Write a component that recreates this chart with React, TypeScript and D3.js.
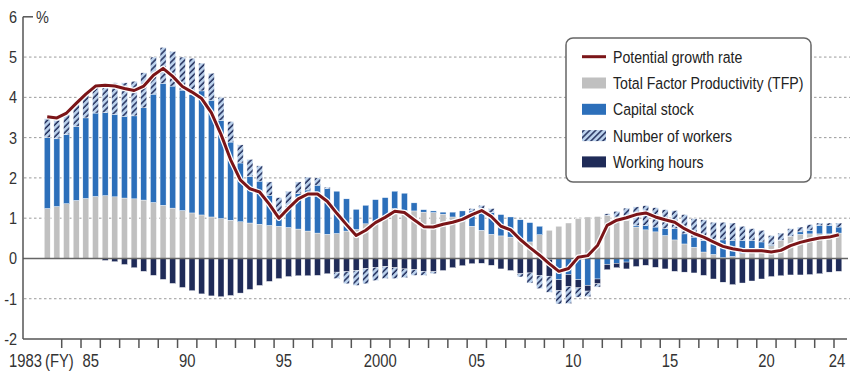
import React from "react";
import * as d3 from "d3";

// Half-year periods, FY1983 1H ... FY2024 1H
const startYear = 1983;
const tfp = [1.24,1.29,1.36,1.44,1.49,1.54,1.56,1.53,1.5,1.48, 1.45,1.39,1.32,1.25,1.19,1.13,1.08,1.03,0.99,0.95, 0.91,0.88,0.85,0.82,0.8, 0.77,0.73,0.68,0.63,0.6, 0.62,0.68,0.72,0.86,0.9, 0.99,1.24,1.19,1.18,1.15, 1.14,1.1,1.03,0.92,0.8, 0.7,0.6,0.56,0.53,0.46, 0.41,0.59,0.7,0.8,0.88, 0.99,1.03,1.04,1.07,1.03, 0.95,0.78,0.71,0.66,0.57, 0.46,0.36,0.28,0.16,0.1, 0.02,0.05,0.12,0.24,0.24, 0.32,0.45,0.55,0.6,0.61, 0.61,0.61,0.63];
const capital = [1.76,1.68,1.71,1.84,2.0,2.07,2.06,2.05,2.03,2.06, 2.29,2.69,3.03,3.03,2.99,2.94,3.08,2.9,2.44,1.94, 1.46,1.16,1.07,0.75,0.23, 0.55,0.88,1.02,1.19,1.13, 1.05,0.8,0.5,0.46,0.56, 0.52,0.43,0.43,0.2,0.06, 0.04,0.05,0.12,0.26,0.38, 0.53,0.54,0.53,0.5,0.5, 0.48,0.21,-0.02,-0.53,-0.4, -0.53,-0.67,-0.51,-0.15,-0.12, -0.09,0.04,0.11,0.12,0.17, 0.28,0.25,0.25,0.29,0.26, 0.44,0.4,0.33,0.21,0.17, 0.03,0,0,0.06,0.09, 0.21,0.21,0.15];
const hours = [0,0,0,0,0,-0.01,-0.05,-0.08,-0.15,-0.23, -0.32,-0.42,-0.52,-0.62,-0.72,-0.8,-0.88,-0.93,-0.95,-0.92, -0.86,-0.77,-0.67,-0.57,-0.5, -0.45,-0.43,-0.43,-0.42,-0.38, -0.34,-0.33,-0.3,-0.25,-0.22, -0.2,-0.23,-0.26,-0.28,-0.32, -0.33,-0.3,-0.23,-0.18,-0.13, -0.12,-0.17,-0.26,-0.3,-0.38, -0.36,-0.42,-0.42,-0.27,-0.3, -0.2,-0.14,-0.12,-0.13,-0.11, -0.17,-0.2,-0.17,-0.22,-0.26, -0.32,-0.34,-0.36,-0.42,-0.51, -0.59,-0.65,-0.61,-0.56,-0.51, -0.45,-0.43,-0.41,-0.41,-0.4, -0.38,-0.34,-0.32];
const workers = [0.47,0.46,0.5,0.54,0.61,0.64,0.68,0.78,0.83,0.86, 0.87,0.92,0.89,0.86,0.82,0.9,0.69,0.67,0.57,0.51, 0.45,0.42,0.38,0.33,0.48, 0.35,0.29,0.32,0.18,0.04, -0.16,-0.3,-0.37,-0.38,-0.33, -0.3,-0.27,-0.22,-0.14,-0.1, -0.05,0,0,0,0.06, 0.09,0.1,0,0,-0.08, -0.25,-0.33,-0.4,-0.33,-0.42, -0.23,-0.14,-0.08,0.04,0.14, 0.3,0.46,0.49,0.48,0.47, 0.45,0.48,0.46,0.51,0.54, 0.44,0.43,0.35,0.29,0.29, 0.22,0.18,0.19,0.12,0.14, 0.06,0.06,0.1];
const potential = [3.52,3.49,3.61,3.85,4.08,4.28,4.3,4.28,4.22,4.17, 4.28,4.55,4.72,4.52,4.27,4.13,3.97,3.62,3.08,2.45, 1.95,1.73,1.65,1.35,1.0, 1.25,1.48,1.6,1.6,1.42, 1.12,0.84,0.57,0.7,0.89, 1.02,1.17,1.14,0.96,0.79, 0.78,0.85,0.9,0.97,1.09, 1.19,1.04,0.8,0.71,0.47, 0.27,0.08,-0.13,-0.32,-0.25, 0.03,0.07,0.32,0.82,0.95, 1.01,1.09,1.13,1.03,0.96, 0.9,0.74,0.62,0.53,0.41, 0.3,0.24,0.2,0.19,0.19, 0.16,0.2,0.32,0.4,0.46, 0.51,0.53,0.59];

const yTicks = [-2, -1, 0, 1, 2, 3, 4, 5, 6];
const xLabels = [
  { year: 1985, text: "85" },
  { year: 1990, text: "90" },
  { year: 1995, text: "95" },
  { year: 2000, text: "2000" },
  { year: 2005, text: "05" },
  { year: 2010, text: "10" },
  { year: 2015, text: "15" },
  { year: 2020, text: "20" },
];
const legendItems = [
  { key: "line", label: "Potential growth rate" },
  { key: "tfp", label: "Total Factor Productivity (TFP)" },
  { key: "capital", label: "Capital stock" },
  { key: "workers", label: "Number of workers" },
  { key: "hours", label: "Working hours" },
];

const W = 850, H = 372;
const FONT = "'Liberation Sans', Arial, sans-serif";
const colors: Record<string, string> = {
  tfp: "#c0c0c0",
  capital: "#2c6fba",
  hours: "#1f2b58",
  workers: "url(#hatch)",
  line: "#7b1518",
};

function Txt({ x, y, anchor = "start", size = 15, sx = 0.85, fill = "#333", children }: any) {
  return (
    <text
      transform={`translate(${x},${y}) scale(${sx},1)`}
      textAnchor={anchor}
      fontSize={size}
      fontFamily={FONT}
      fill={fill}
    >
      {children}
    </text>
  );
}

export default function App() {
  const n = tfp.length;
  const rows = d3.range(n).map((i) => ({
    t: startYear + i * 0.5 + 0.25,
    tfp: tfp[i],
    capital: capital[i],
    hours: hours[i],
    workers: workers[i],
  }));
  const x = d3.scaleLinear().domain([1983, 2024]).range([42.4, 834]);
  const y = d3.scaleLinear().domain([-2, 6]).range([339, 16.8]);
  const bw = 6;
  const keys = ["tfp", "capital", "hours", "workers"];
  const series = d3.stack<any>().keys(keys).offset(d3.stackOffsetDiverging)(rows);
  const line = d3
    .line<number>()
    .x((_, i) => x(rows[i].t))
    .y((d) => y(d));
  const linePath = line(potential) || "";
  const tickYears = d3.range(1984, 2025);

  return (
    <svg width={W} height={H} style={{ position: "absolute", left: 0, top: 0, background: "#fff" }}>
      <defs>
        <pattern id="hatch" patternUnits="userSpaceOnUse" width="4.2" height="4.2" patternTransform="rotate(45)">
          <rect width="4.2" height="4.2" fill="#bcd3ee" />
          <line x1="1" y1="0" x2="1" y2="4.2" stroke="#1f2b58" strokeWidth="1.5" />
        </pattern>
      </defs>

      {/* gridlines */}
      {yTicks.filter((v) => v !== 0 && v !== 6 && v !== -2).map((v) => (
        <line key={v} x1={24} x2={850} y1={y(v)} y2={y(v)} stroke="#9a9a9a" strokeDasharray="2.5,2.5" strokeWidth={1} />
      ))}

      {/* bars */}
      {series.map((s) => (
        <g key={s.key} fill={colors[s.key]}>
          {s.map((d, i) => {
            const y0 = y(d[0]), y1 = y(d[1]);
            const h = Math.abs(y0 - y1);
            if (h < 0.01) return null;
            return (
              <rect key={i} x={x(rows[i].t) - bw / 2} y={Math.min(y0, y1)} width={bw} height={h} stroke="#fff" strokeWidth={0.4} />
            );
          })}
        </g>
      ))}

      {/* zero line */}
      <line x1={23} x2={848} y1={y(0)} y2={y(0)} stroke="#666" strokeWidth={1.5} />

      {/* potential growth line */}
      <path d={linePath} fill="none" stroke="#fff" strokeWidth={5.5} strokeLinejoin="round" />
      <path d={linePath} fill="none" stroke={colors.line} strokeWidth={3} strokeLinejoin="round" />

      {/* axes */}
      <line x1={23} x2={23} y1={y(6)} y2={y(-2)} stroke="#555" strokeWidth={1.5} />
      <line x1={23} x2={847} y1={y(-2)} y2={y(-2)} stroke="#555" strokeWidth={1.5} />
      <line x1={23} x2={33} y1={y(6)} y2={y(6)} stroke="#555" strokeWidth={1.5} />
      {tickYears.map((yr) => (
        <line key={yr} x1={x(yr)} x2={x(yr)} y1={y(-2)} y2={y(-2) + 9} stroke="#555" strokeWidth={1.5} />
      ))}

      {/* y labels */}
      {yTicks.map((v) => (
        <Txt key={v} x={17} y={y(v) + 6} anchor="end" size={17} sx={0.85}>
          {String(v)}
        </Txt>
      ))}
      <Txt x={36} y={y(6) + 6} size={17} sx={0.85}>%</Txt>

      {/* x labels */}
      <Txt x={42} y={367} anchor="end" size={19} sx={0.78}>1983</Txt>
      <Txt x={45} y={367} size={19} sx={0.78}>(FY)</Txt>
      {xLabels.map((l) => (
        <Txt key={l.text} x={x(l.year + 0.5)} y={367} anchor="middle" size={19} sx={0.78}>
          {l.text}
        </Txt>
      ))}
      <Txt x={837} y={367} anchor="middle" size={19} sx={0.78}>24</Txt>

      {/* legend */}
      <rect x={566} y={38} width={245} height={144} rx={7} fill="#fff" stroke="#666" strokeWidth={1.5} />
      {legendItems.map((it, i) => {
        const cy = 56.7 + i * 26.3;
        return (
          <g key={it.key}>
            {it.key === "line" ? (
              <line x1={582} x2={606} y1={cy} y2={cy} stroke={colors.line} strokeWidth={3} />
            ) : (
              <rect x={582} y={cy - 5.5} width={24} height={11} fill={colors[it.key]} />
            )}
            <Txt x={613} y={cy + 6} size={17} sx={0.83} fill="#222">
              {it.label}
            </Txt>
          </g>
        );
      })}
    </svg>
  );
}
